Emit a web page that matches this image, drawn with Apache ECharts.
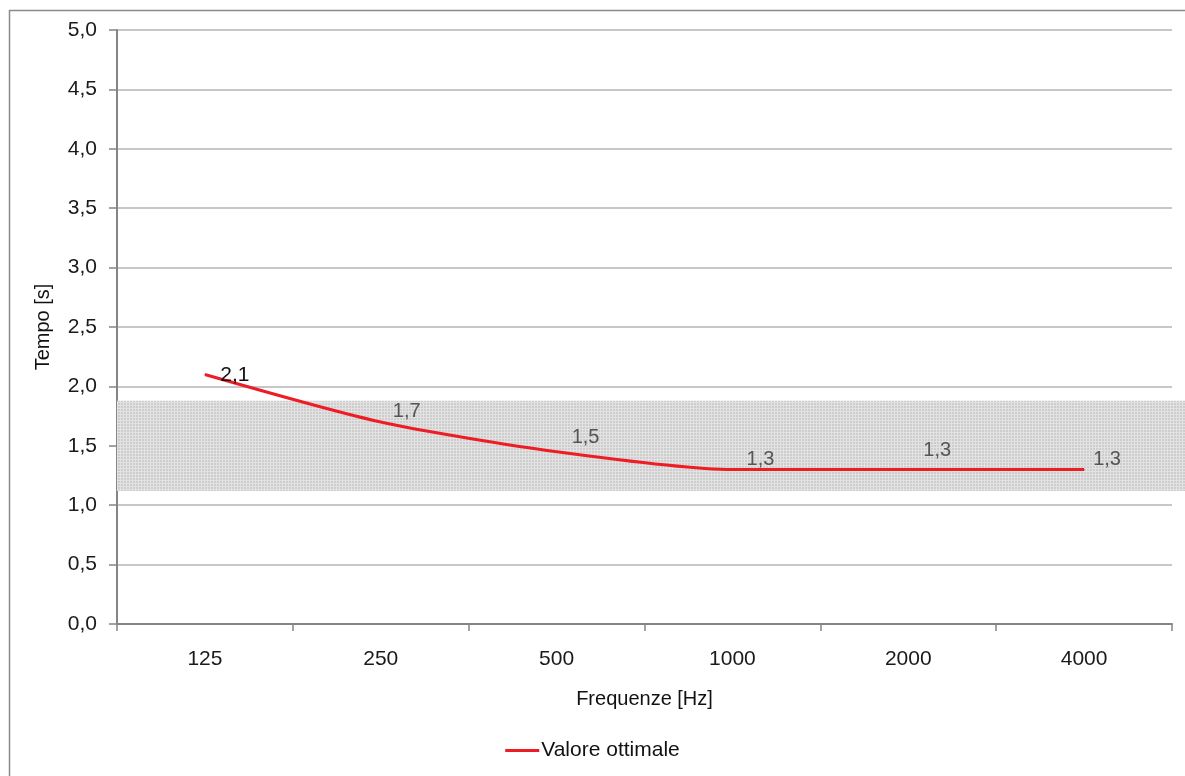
<!DOCTYPE html>
<html>
<head>
<meta charset="utf-8">
<script src="https://cdn.jsdelivr.net/npm/echarts@6/dist/echarts.min.js"></script>
<style>
html,body{margin:0;padding:0;background:#fff;}
#c{width:1185px;height:776px;}
</style>
</head>
<body>
<div id="c"></div>
<script>
const categories = ['125', '250', '500', '1000', '2000', '4000'];
const valoreOttimale = [2.1, 1.7, 1.45, 1.3, 1.3, 1.3];
const bandRange = [1.12, 1.88];
const yTicks = { min: 0, max: 5, interval: 0.5 };

// label offsets (styling)
const labelOffsets = [[30, 1], [26, -11], [29, -14], [28, -10], [29, -19], [23, -10]];

function fmt(v) {
  return (Math.round(v * 10 + 1e-6) / 10).toFixed(1).replace('.', ',');
}

// hatched pattern
const pc = document.createElement('canvas');
pc.width = 3; pc.height = 3;
const px = pc.getContext('2d');
px.fillStyle = '#cdcdcd';
px.fillRect(0, 0, 3, 3);
px.fillStyle = '#e2e2e2';
px.fillRect(0, 0, 3, 1);
px.fillRect(0, 0, 1, 3);

const chart = echarts.init(document.getElementById('c'), null, { renderer: 'canvas' });

const lineData = valoreOttimale.map((v, i) => ({
  value: v,
  label: {
    offset: labelOffsets[i],
    color: i === 0 ? '#111' : '#555',
    fontSize: i === 0 ? 21 : 20
  }
}));

const FONT = 'Liberation Sans, Arial, sans-serif';

chart.setOption({
  animation: false,
  backgroundColor: '#fff',
  graphic: [{
    type: 'rect', left: 7, top: 8,
    shape: { width: 1200, height: 800 },
    style: { fill: 'none', stroke: '#8a8a8a', lineWidth: 1.5 },
    z: -10
  }],
  grid: [
    { left: 117, right: 13, top: 30, bottom: 152, containLabel: false },
    { left: 117, right: 0, top: 30, bottom: 152, containLabel: false }
  ],
  legend: {
    bottom: 10, left: 'center',
    data: [{ name: 'Valore ottimale', icon: 'rect' }],
    itemWidth: 34, itemHeight: 3, itemGap: 10,
    textStyle: { fontFamily: FONT, fontSize: 21, color: '#111', padding: [0, 0, 0, -3] }
  },
  xAxis: [{
    type: 'category', gridIndex: 0, data: categories, boundaryGap: true,
    name: 'Frequenze [Hz]', nameLocation: 'middle', nameGap: 65,
    nameTextStyle: { fontFamily: FONT, fontSize: 20, color: '#111' },
    axisLine: { lineStyle: { color: '#858585', width: 2 } },
    axisTick: { show: true, length: 7, lineStyle: { color: '#858585', width: 1.5 }, alignWithLabel: false },
    axisLabel: { fontFamily: FONT, fontSize: 21, color: '#1a1a1a', margin: 25 },
    splitLine: { show: false }
  }, {
    type: 'value', gridIndex: 1, min: 0, max: 1, show: false
  }],
  yAxis: [{
    type: 'value', gridIndex: 0, min: yTicks.min, max: yTicks.max, interval: yTicks.interval,
    name: 'Tempo [s]', nameLocation: 'middle', nameGap: 64, nameRotate: 90,
    nameTextStyle: { fontFamily: FONT, fontSize: 20, color: '#111' },
    axisLine: { show: true, lineStyle: { color: '#858585', width: 2 } },
    axisTick: { show: true, length: 8, lineStyle: { color: '#858585', width: 1.5 } },
    axisLabel: { fontFamily: FONT, fontSize: 21, color: '#1a1a1a', margin: 20, formatter: v => v.toFixed(1).replace('.', ',') },
    splitLine: { show: true, lineStyle: { color: '#b4b4b4', width: 1.5 } }
  }, {
    type: 'value', gridIndex: 1, min: yTicks.min, max: yTicks.max, show: false
  }],
  series: [{
    type: 'line', xAxisIndex: 1, yAxisIndex: 1,
    data: [], silent: true, z: 0,
    markArea: {
      silent: true,
      itemStyle: { color: { image: pc, repeat: 'repeat' } },
      data: [[{ yAxis: bandRange[0] }, { yAxis: bandRange[1] }]]
    }
  }, {
    name: 'Valore ottimale', type: 'line', xAxisIndex: 0, yAxisIndex: 0,
    data: lineData, smooth: 0.25,
    symbol: 'circle', symbolSize: 1,
    lineStyle: { color: '#ee1c25', width: 3 },
    itemStyle: { color: '#ee1c25' },
    z: 5,
    label: {
      show: true, position: 'inside',
      fontFamily: FONT,
      formatter: p => fmt(p.value)
    }
  }]
});
</script>
</body>
</html>
